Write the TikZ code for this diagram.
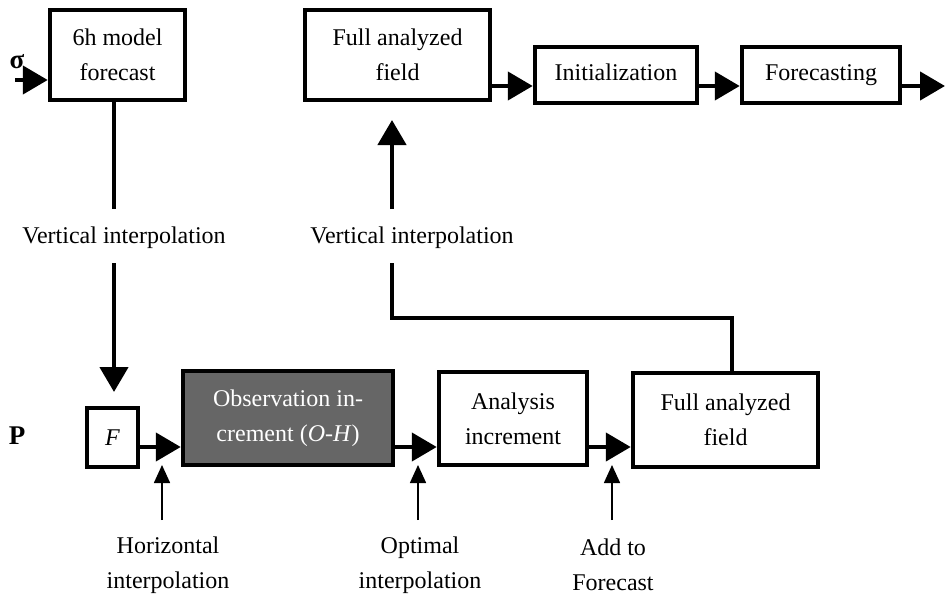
\documentclass[tikz,border=0pt]{standalone}
\usepackage{fontspec}
\setmainfont{Liberation Serif}
\usetikzlibrary{arrows.meta}
\begin{document}
\begin{tikzpicture}[x=1pt,y=-1pt,
  box/.style={draw, line width=4.5pt, rectangle, inner sep=0pt, align=center, font=\fontsize{24}{35}\selectfont},
  conn/.style={line width=4.5pt},
  bigarr/.style={line width=4.5pt, -{Triangle[length=25pt,width=28pt]}},
  smallarr/.style={line width=1.6pt, -{Triangle[length=18pt,width=16pt]}},
  lbl/.style={font=\fontsize{24}{35}\selectfont, align=center, inner sep=0pt},
  side/.style={font=\fontsize{27}{30}\selectfont\bfseries, inner sep=0pt}]
\useasboundingbox (0,0) rectangle (945,597);
\fill[white] (0,0) rectangle (945,597);

% boxes
\node[box, minimum width=135pt, minimum height=90pt] (fc) at (117.5,55) {6h model\\forecast};
\node[box, minimum width=185pt, minimum height=90pt] (fa1) at (397.5,55) {Full analyzed\\field};
\node[box, minimum width=162pt, minimum height=56pt] (init) at (616,75) {Initialization\vphantom{g}};
\node[box, minimum width=158pt, minimum height=56pt] (fore) at (821,75) {Forecasting};
\node[box, minimum width=51pt, minimum height=59pt] (F) at (112.5,437.5) {\textit{F}};
\node[box, fill=black!60, text=white, minimum width=210pt, minimum height=94pt] (obs) at (288,418) {Observation in-\\crement (\textit{O-H})};
\node[box, minimum width=148pt, minimum height=93pt] (ana) at (513,418.5) {Analysis\\increment};
\node[box, minimum width=185pt, minimum height=94pt] (fa2) at (725.5,420) {Full analyzed\\field};

% labels
\node[side] (sig) at (17,62) {σ};
\node[side] (P) at (17,436) {P};
\node[lbl] (vi1) at (124,238) {Vertical interpolation};
\node[lbl] (vi2) at (412,238) {Vertical interpolation};
\node[lbl] (hi) at (168,565) {Horizontal\\interpolation};
\node[lbl] (oi) at (420,565) {Optimal\\interpolation};
\node[lbl] (af) at (613,565) {Add to\\Forecast};

% row coordinates
\coordinate (r1) at (0,86);
\coordinate (r2) at (0,447);

% top row
\coordinate (in) at (15,80);
\draw[bigarr] (in) -- (fc.west |- in);
\draw[bigarr] (fa1.east |- r1) -- (init.west |- r1);
\draw[bigarr] (init.east |- r1) -- (fore.west |- r1);
\coordinate (out) at (945,86);
\draw[bigarr] (fore.east |- r1) -- (out);

% left vertical interpolation
\coordinate (v1a) at (114,209);
\coordinate (v1b) at (114,263);
\coordinate (v1t) at (114,392);
\draw[conn] (fc.south -| v1a) -- (v1a);
\draw[bigarr] (v1b) -- (v1t);

% right vertical interpolation
\coordinate (v2t) at (392,120);
\coordinate (v2a) at (392,209);
\coordinate (v2b) at (392,263);
\coordinate (v2c) at (392,318);
\coordinate (v2d) at (732,318);
\draw[bigarr] (v2a) -- (v2t);
\draw[conn, line join=miter] (v2b) -- (v2c) -- (v2d) -- (fa2.north -| v2d);

% bottom row
\draw[bigarr] (F.east |- r2) -- (obs.west |- r2);
\draw[bigarr] (obs.east |- r2) -- (ana.west |- r2);
\draw[bigarr] (ana.east |- r2) -- (fa2.west |- r2);

% small arrows
\coordinate (h1) at (162,520); \coordinate (h1t) at (162,465);
\coordinate (h2) at (418,520); \coordinate (h2t) at (418,465);
\coordinate (h3) at (612,520); \coordinate (h3t) at (612,465);
\draw[smallarr] (h1) -- (h1t);
\draw[smallarr] (h2) -- (h2t);
\draw[smallarr] (h3) -- (h3t);
\end{tikzpicture}
\end{document}
